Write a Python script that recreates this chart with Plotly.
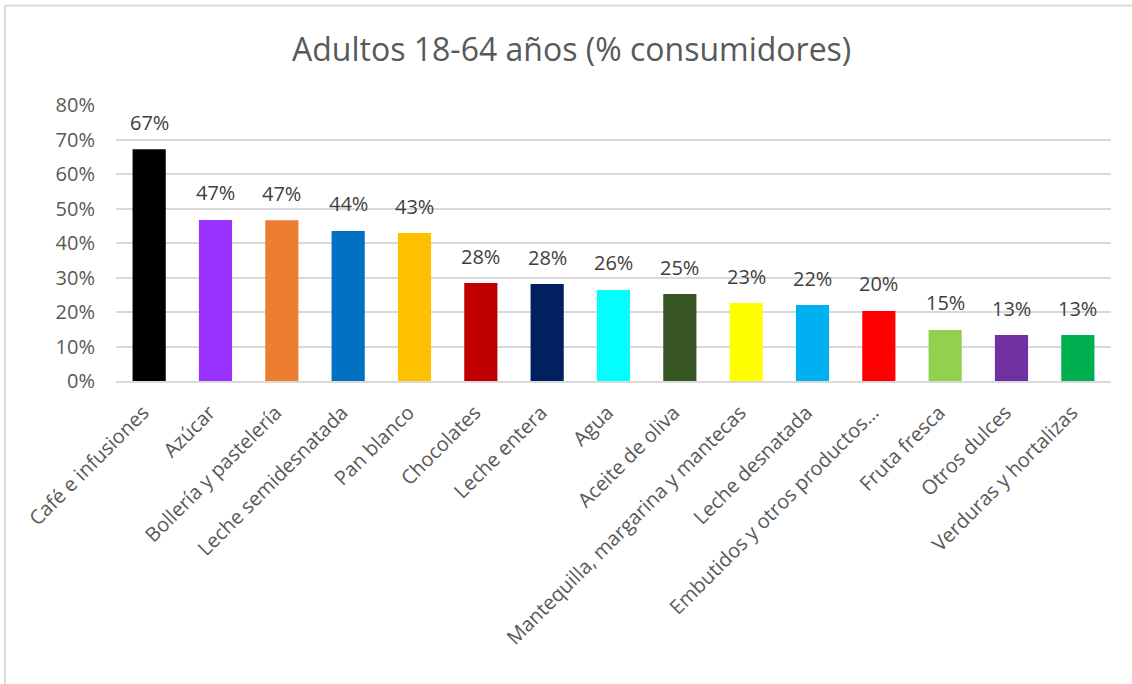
import plotly.graph_objects as go

# Share of adult consumers (18-64 years) per food group
categorias = [
    "Café e infusiones", "Azúcar", "Bollería y pastelería", "Leche semidesnatada",
    "Pan blanco", "Chocolates", "Leche entera", "Agua", "Aceite de oliva",
    "Mantequilla, margarina y mantecas", "Leche desnatada",
    "Embutidos y otros productos…", "Fruta fresca", "Otros dulces",
    "Verduras y hortalizas",
]
consumidores = [
    0.672, 0.467, 0.466, 0.435, 0.429, 0.284, 0.281, 0.264, 0.252,
    0.226, 0.220, 0.203, 0.148, 0.133, 0.133,
]
colores = [
    "#000000", "#9933FF", "#ED7D31", "#0070C0", "#FFC000", "#C00000",
    "#002060", "#00FFFF", "#375623", "#FFFF00", "#00B0F0", "#FF0000",
    "#92D050", "#7030A0", "#00B050",
]

FONT = "Open Sans"
GRIS = "#595959"
GRID = "#D9D9D9"

fig = go.Figure(
    go.Bar(
        x=categorias,
        y=consumidores,
        marker=dict(color=colores, line=dict(width=0)),
        hoverinfo="skip",
    )
)

# Value labels above each bar
for cat, val in zip(categorias, consumidores):
    fig.add_annotation(
        x=cat, y=val, text=f"{val:.0%}", showarrow=False,
        yanchor="middle", yshift=27,
        font=dict(family=FONT, size=20, color="#404040"),
    )

# Chart-area frame (left and top edges)
fig.add_shape(type="line", xref="paper", yref="paper",
              x0=-0.1116, x1=1.05, y0=1.3605, y1=1.3605,
              line=dict(color=GRID, width=2))
fig.add_shape(type="line", xref="paper", yref="paper",
              x0=-0.1116, x1=-0.1116, y0=-1.2, y1=1.3605,
              line=dict(color=GRID, width=2))

fig.update_layout(
    width=1132, height=684,
    margin=dict(l=116, r=21, t=105, b=303),
    paper_bgcolor="white", plot_bgcolor="white",
    bargap=0.5,
    showlegend=False,
    title=dict(
        text="Adultos 18-64 años (% consumidores)",
        x=0.505, xref="container", xanchor="center",
        y=1 - 50 / 684, yref="container", yanchor="middle",
        font=dict(family=FONT, size=32, color=GRIS),
    ),
    font=dict(family=FONT, color=GRIS),
)
fig.update_xaxes(
    tickangle=-45, tickfont=dict(family=FONT, size=20, color=GRIS),
    showgrid=False, showline=True, linecolor=GRID, linewidth=2,
    ticks="", ticklabelstandoff=10, ticklabelshift=-6,
)
fig.update_yaxes(
    range=[0, 0.8], dtick=0.1, tickformat=".0%",
    tickfont=dict(family=FONT, size=20, color=GRIS),
    showgrid=True, gridcolor=GRID, gridwidth=2,
    zeroline=False, showline=False, ticks="", ticklabelstandoff=20,
)

fig.write_html("out.html")
